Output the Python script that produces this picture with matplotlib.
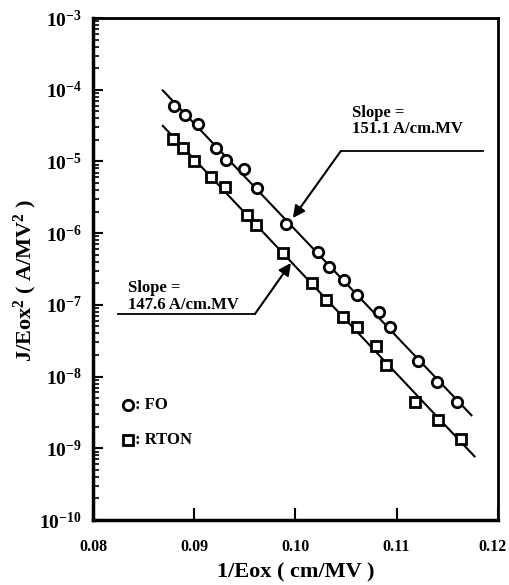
import numpy as np
import matplotlib
matplotlib.use('Agg')
import matplotlib.pyplot as plt
import matplotlib.transforms as mtransforms
from matplotlib.ticker import FixedLocator, FuncFormatter, NullFormatter

plt.rcParams['font.family'] = ['Liberation Serif', 'DejaVu Serif']
plt.rcParams['font.weight'] = 'bold'
plt.rcParams['mathtext.fontset'] = 'custom'
plt.rcParams['mathtext.rm'] = 'Liberation Serif:bold'
plt.rcParams['mathtext.bf'] = 'Liberation Serif:bold'
plt.rcParams['mathtext.it'] = 'Liberation Serif:bold'
plt.rcParams['mathtext.default'] = 'bf'

# FO (circles)
fo_x = [0.0880, 0.0891, 0.0904, 0.0922, 0.0931, 0.0949, 0.0962, 0.0991, 0.1022,
        0.1033, 0.1048, 0.1061, 0.1083, 0.1093, 0.1121, 0.1140, 0.1160]
fo_y = [5.9e-5, 4.4e-5, 3.3e-5, 1.54e-5, 1.05e-5, 7.8e-6, 4.3e-6, 1.34e-6, 5.5e-7,
        3.4e-7, 2.2e-7, 1.37e-7, 7.9e-8, 4.9e-8, 1.64e-8, 8.4e-9, 4.4e-9]

# RTON (squares)
rton_x = [0.0879, 0.0889, 0.0900, 0.0917, 0.0930, 0.0952, 0.0961, 0.0988, 0.1016,
          0.1030, 0.1047, 0.1061, 0.1080, 0.1090, 0.1118, 0.1141, 0.1164]
rton_y = [2.05e-5, 1.54e-5, 1.01e-5, 6.1e-6, 4.4e-6, 1.79e-6, 1.3e-6, 5.3e-7, 2.0e-7,
          1.17e-7, 6.8e-8, 4.9e-8, 2.66e-8, 1.45e-8, 4.4e-9, 2.5e-9, 1.34e-9]

# x-span of the drawn fit lines
fo_fit_span = [0.0869, 0.1174]
rton_fit_span = [0.0869, 0.1177]

x_ticks = [0.08, 0.09, 0.10, 0.11, 0.12]
x_tick_labels = ['0.08', '0.09', '0.10', '0.11', '0.12']
y_exponents = [-10, -9, -8, -7, -6, -5, -4, -3]

fig = plt.figure(figsize=(5.09, 5.85), dpi=100)
ax = fig.add_axes([0.1827, 0.1111, 0.7953, 0.8581])

def fitLine(x, y, span):
    coef = np.polyfit(np.array(x), np.log10(np.array(y)), 1)
    xs = np.array(span)
    return xs, 10 ** np.polyval(coef, xs)

for xs, ys in (fitLine(fo_x, fo_y, fo_fit_span), fitLine(rton_x, rton_y, rton_fit_span)):
    ax.plot(xs, ys, color='black', lw=1.5, zorder=2)

ax.plot(fo_x, fo_y, 'o', ms=7.5, mfc='white', mec='black', mew=2.0, zorder=3)
ax.plot(rton_x, rton_y, 's', ms=7.5, mfc='white', mec='black', mew=2.0, zorder=3)

ax.set_yscale('log')
ax.set_xlim(0.08, 0.12)
ax.set_ylim(1e-10, 1e-3)

ax.xaxis.set_major_locator(FixedLocator(x_ticks))
ax.set_xticklabels(x_tick_labels, fontsize=11.5, fontweight='bold')
major_y = [10.0 ** e for e in y_exponents]
minor_y = [m * 10.0 ** e for e in y_exponents[:-1] for m in range(2, 10)]
ax.yaxis.set_major_locator(FixedLocator(major_y))
ax.yaxis.set_minor_locator(FixedLocator(minor_y))
ax.yaxis.set_minor_formatter(NullFormatter())
ax.yaxis.set_major_formatter(FuncFormatter(lambda v, p: r'$\mathbf{10^{%d}}$' % int(round(np.log10(v)))))

ax.tick_params(axis='x', which='major', direction='in', length=9, width=1.5, pad=14,
               top=False, labelsize=11.5)
ax.tick_params(axis='y', which='major', direction='in', length=7, width=1.5, pad=8,
               right=False, labelsize=14)
ax.tick_params(axis='y', which='minor', direction='in', length=4, width=1.2, right=False)
ax.tick_params(axis='x', which='minor', bottom=False, top=False)

# the last x label sits a little left of the spine in the reference
fig.canvas.draw()
last = ax.get_xticklabels()[-1]
last.set_transform(last.get_transform() + mtransforms.ScaledTranslation(-5 / 100, 0, fig.dpi_scale_trans))

for side in ['left', 'bottom']:
    ax.spines[side].set_linewidth(2.5)
for side in ['top', 'right']:
    ax.spines[side].set_linewidth(2.0)

ax.set_xlabel('1/Eox ( cm/MV )', fontsize=16, fontweight='bold')
ax.xaxis.set_label_coords(0.5, -0.084)
ax.set_ylabel(r'J/Eox$^{2}$ ( A/MV$^{2}$ )', fontsize=16, fontweight='bold')
ax.yaxis.set_label_coords(-0.133, 0.478)

# slope annotations
ax.text(0.6395, 0.795, 'Slope =\n151.1 A/cm.MV', transform=ax.transAxes,
        fontsize=12, fontweight='bold', ha='left', va='center', linespacing=1.05)
ax.plot([0.6123, 0.963], [0.7351, 0.7351], transform=ax.transAxes, color='black', lw=1.3)
ax.annotate('', xy=(0.4938, 0.6016), xycoords='axes fraction',
            xytext=(0.6123, 0.7351), textcoords='axes fraction',
            arrowprops=dict(arrowstyle='-|>', color='black', lw=1.5, mutation_scale=18,
                            shrinkA=0, shrinkB=0))

ax.text(0.0864, 0.4452, 'Slope =\n147.6 A/cm.MV', transform=ax.transAxes,
        fontsize=12, fontweight='bold', ha='left', va='center', linespacing=1.05)
ax.plot([0.0617, 0.4], [0.4104, 0.4104], transform=ax.transAxes, color='black', lw=1.3)
ax.annotate('', xy=(0.4889, 0.5120), xycoords='axes fraction',
            xytext=(0.4, 0.4104), textcoords='axes fraction',
            arrowprops=dict(arrowstyle='-|>', color='black', lw=1.5, mutation_scale=18,
                            shrinkA=0, shrinkB=0))

# legend drawn by hand
ax.plot([0.0864], [0.2291], 'o', transform=ax.transAxes, ms=7.5, mfc='white', mec='black', mew=2.0)
ax.text(0.104, 0.2291, ': FO', transform=ax.transAxes, fontsize=12, fontweight='bold',
        ha='left', va='center')
ax.plot([0.0864], [0.1594], 's', transform=ax.transAxes, ms=7.5, mfc='white', mec='black', mew=2.0)
ax.text(0.104, 0.1594, ': RTON', transform=ax.transAxes, fontsize=12, fontweight='bold',
        ha='left', va='center')

fig.savefig('out.png', dpi=100)
